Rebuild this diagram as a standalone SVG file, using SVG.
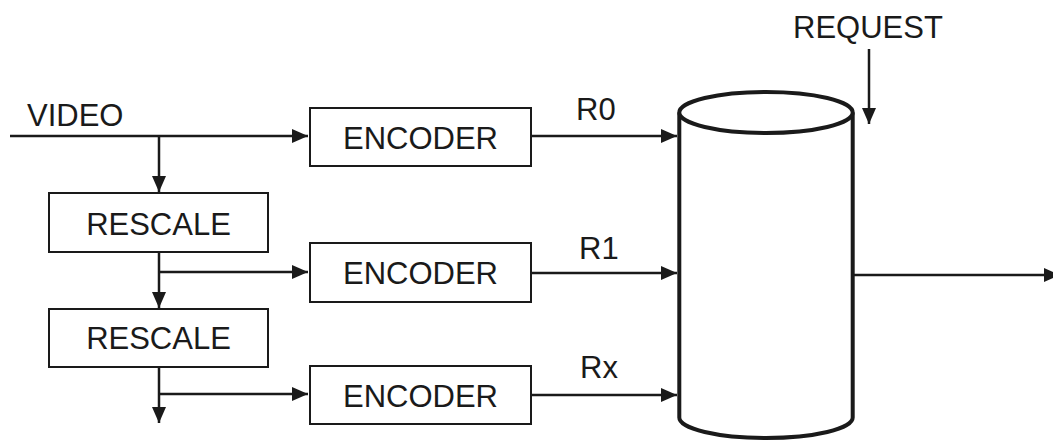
<svg xmlns="http://www.w3.org/2000/svg" width="1053" height="441" viewBox="0 0 1053 441">
<style>
.box{fill:#fff;stroke:#1a1a1a;stroke-width:2}
.t{font-family:"Liberation Sans",Arial,sans-serif;font-size:31px;fill:#1a1a1a}
.c{text-anchor:middle}
.ln{fill:none;stroke:#1a1a1a;stroke-width:2.5}
.cyl{fill:#fff;stroke:#1a1a1a;stroke-width:4}
</style>
<defs>
<marker id="ah" markerUnits="userSpaceOnUse" markerWidth="16" markerHeight="14" refX="16" refY="7" orient="auto">
<path d="M0,0 L16,7 L0,14 z" fill="#1a1a1a"/>
</marker>
</defs>
<rect width="1053" height="441" fill="#fff"/>
<g id="connectors">
<path class="ln" d="M10,136 H308" marker-end="url(#ah)"/>
<path class="ln" d="M159,136 V192" marker-end="url(#ah)"/>
<path class="ln" d="M159,252 V308" marker-end="url(#ah)"/>
<path class="ln" d="M159,272 H308" marker-end="url(#ah)"/>
<path class="ln" d="M159,367 V423" marker-end="url(#ah)"/>
<path class="ln" d="M159,394 H308" marker-end="url(#ah)"/>
<path class="ln" d="M531,136 H677" marker-end="url(#ah)"/>
<path class="ln" d="M531,273 H677" marker-end="url(#ah)"/>
<path class="ln" d="M531,395 H677" marker-end="url(#ah)"/>
<path class="ln" d="M869,49 V124" marker-end="url(#ah)"/>
<path class="ln" d="M853,275 H1060" marker-end="url(#ah)"/>
</g>
<g id="labels">
<text class="t" x="27" y="126">VIDEO</text>
<text class="t" x="793" y="38">REQUEST</text>
<text class="t" x="576" y="120">R0</text>
<text class="t" x="579" y="259">R1</text>
<text class="t" x="580" y="378">Rx</text>
</g>
<g id="encoder1"><rect class="box" x="310" y="108" width="221" height="58"/><text class="t c" x="420.5" y="149">ENCODER</text></g>
<g id="encoder2"><rect class="box" x="310" y="243" width="221" height="59"/><text class="t c" x="420.5" y="284">ENCODER</text></g>
<g id="encoder3"><rect class="box" x="310" y="366" width="221" height="58"/><text class="t c" x="420.5" y="407">ENCODER</text></g>
<g id="rescale1"><rect class="box" x="49" y="193" width="219" height="59"/><text class="t c" x="158.5" y="235">RESCALE</text></g>
<g id="rescale2"><rect class="box" x="49" y="309" width="219" height="58"/><text class="t c" x="158.5" y="349">RESCALE</text></g>
<g id="storage">
<path class="cyl" d="M679.3,112.5 V417.5 A86.7,20.5 0 0 0 852.7,417.5 V112.5"/>
<ellipse class="cyl" cx="766" cy="112.5" rx="86.7" ry="20.5"/>
</g>
</svg>
